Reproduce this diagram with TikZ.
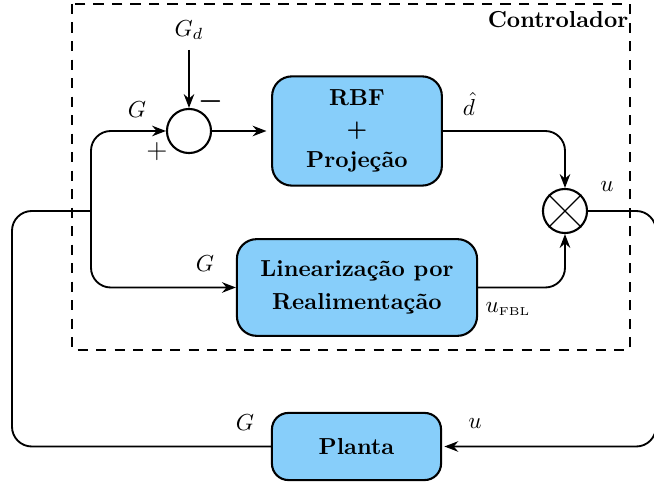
\documentclass[tikz,border=0pt]{standalone}
\usepackage{amsmath,amssymb}
\usepackage{tikz}
\usetikzlibrary{arrows.meta,calc}
\definecolor{blkblue}{RGB}{135,206,250}
\tikzset{
  >={Stealth[length=2.1mm,width=1.6mm]},
  blk/.style={draw,fill=blkblue,rounded corners=3mm,line width=0.9pt,font=\bfseries,align=center,inner sep=0pt},
  sm/.style={circle,draw,minimum size=6.7mm,inner sep=0pt,line width=0.9pt},
  sgn/.style={font=\large,inner sep=0pt},
  every picture/.style={line width=0.8pt},
}
\begin{document}
\begin{tikzpicture}[x=0.0152cm,y=-0.0152cm]
\useasboundingbox (0,0) rectangle (654,483);
% controller frame
\draw[dash pattern=on 4.5pt off 3.5pt] (72,4) rectangle (630,350);
\node[font=\bfseries] (ctl) at (558,20) {Controlador};
% blocks
\node[sm] (sum) at (189,131) {};
\node[sm] (mul) at (565,211) {};
\draw[line width=0.6pt] (mul.north west)--(mul.south east) (mul.north east)--(mul.south west);
\node[blk,minimum width=2.58cm,minimum height=1.66cm] (rbf) at (357,131) {RBF\\[1.5pt]+\\[1.5pt]Projeção};
\node[blk,minimum width=3.65cm,minimum height=1.47cm] (lin) at (357,287.5) {Linearização por\\[2pt]Realimentação};
\node[blk,rounded corners=2.5mm,minimum width=2.57cm,minimum height=1.02cm] (pla) at (356.5,446.5) {Planta};
\node[inner sep=4pt,anchor=south] (gd) at (189,50) {$G_d$};
\coordinate (sp) at (91,211);
\coordinate (rt) at (656,330);
\coordinate (lt) at (12,330);
% connectors
\draw[->] (gd.south)--(sum.north);
\draw[->,rounded corners=3mm] (sp)|-(sum.west);
\draw[->,rounded corners=3mm] (sp)|-(lin.west);
\draw[->,shorten >=2pt] (sum.east)--(rbf.west);
\draw[->,rounded corners=3mm] (rbf.east)-|(mul.north);
\draw[->,rounded corners=3mm] (lin.east)-|(mul.south);
\draw[->,rounded corners=3mm,shorten >=1pt] (mul.east)-|(rt)|-(pla.east);
\draw[rounded corners=3mm] (pla.west)-|(lt)|-(sp);
% labels
\node (lg1) at (137,110) {$G$};
\node[sgn] (lm) at (211,102) {$\boldsymbol{-}$};
\node[sgn] (lp) at (157,152) {$+$};
\node (ld) at (469,104) {$\hat{d}$};
\node (lu1) at (607,187) {$u$};
\node (lg2) at (205,264) {$G$};
\node (lub) at (508,309) {$u_{\text{\tiny FBL}}$};
\node (lg3) at (245,423) {$G$};
\node (lu2) at (475,424) {$u$};
\end{tikzpicture}
\end{document}
